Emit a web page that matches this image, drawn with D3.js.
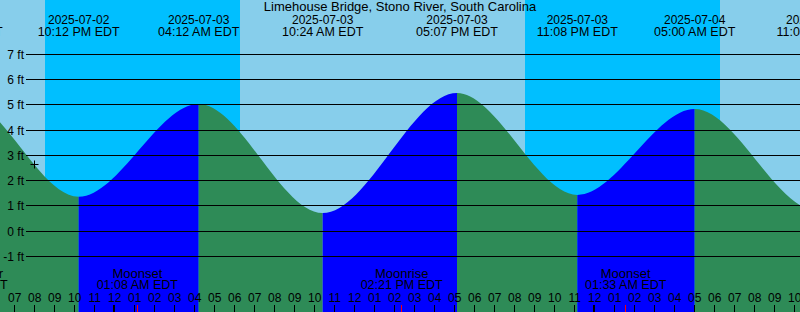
<!DOCTYPE html>
<html>
<head>
<meta charset="utf-8">
<script src="https://cdn.jsdelivr.net/npm/d3@7"></script>
<style>
body { margin: 0; }
svg { display: block; font-family: "Liberation Sans", Arial, sans-serif; font-size: 12px; }
.big { font-size: 13px; }
.mid { font-size: 12.5px; }
</style>
</head>
<body>
<div id="chart"></div>
<script>
// station
var title = "Limehouse Bridge, Stono River, South Carolina";

// tide extremes, local (EDT) wall clock
var tideTimes = ["2025-07-02 10:15", "2025-07-02 16:21", "2025-07-02 22:12", "2025-07-03 04:12",
                 "2025-07-03 10:24", "2025-07-03 17:07", "2025-07-03 23:08", "2025-07-04 05:00",
                 "2025-07-04 11:06", "2025-07-04 17:40", "2025-07-04 23:50"];
var tideHeights = [0.80, 5.30, 1.36, 5.03, 0.71, 5.47, 1.43, 4.83, 0.82, 5.30, 1.40];

// sun and moon
var sunsetTimes = ["2025-07-02 20:31", "2025-07-03 20:31"];
var sunriseTimes = ["2025-07-03 06:16", "2025-07-04 06:16"];
var moonNames = ["First Quarter", "Moonset", "Moonrise", "Moonset"];
var moonTimes = ["2025-07-02 16:36", "2025-07-03 01:08", "2025-07-03 14:21", "2025-07-04 01:33"];

// axis
var heightTicks = [-1, 0, 1, 2, 3, 4, 5, 6, 7];
var startTime = "2025-07-02 18:16", endTime = "2025-07-04 10:16";

// current time mark
var nowTime = "2025-07-02 19:59", nowHeight = 2.64;

var width = 800, height = 312;
var parse = d3.utcParse("%Y-%m-%d %H:%M");
var fmtDate = d3.utcFormat("%Y-%m-%d");
var fmtTime = d3.utcFormat("%I:%M %p EDT");
var fmtHour = d3.utcFormat("%I");

var colors = {day: "#87CEEB", night: "#00BFFF", flood: "#0000FF", ebb: "#2E8B57"};

var tides = tideTimes.map(function(t, i) { return {time: parse(t), h: tideHeights[i]}; });

var x = d3.scaleUtc().domain([parse(startTime), parse(endTime)]).range([0, width]);
var y = d3.scaleLinear().domain([-1, 7]).range([256.3, 54.3]);

var svg = d3.select("#chart").append("svg")
    .attr("width", width)
    .attr("height", height);

// sky: day then night bands
svg.append("rect")
    .attr("width", width)
    .attr("height", height)
    .attr("fill", colors.day);

svg.selectAll(".night")
    .data(sunsetTimes)
    .enter().append("rect")
    .attr("class", "night")
    .attr("x", function(d) { return x(parse(d)); })
    .attr("y", 0)
    .attr("width", function(d, i) { return x(parse(sunriseTimes[i])) - x(parse(d)); })
    .attr("height", height)
    .attr("fill", colors.night);

// water under the tide curve, blue when rising, green when falling
var area = d3.area()
    .x(function(d) { return x(d.time); })
    .y0(height)
    .y1(function(d) { return y(d.h); })
    .curve(d3.curveMonotoneX);

svg.append("clipPath")
    .attr("id", "water")
    .append("path")
    .attr("d", area(tides));

svg.append("g")
    .attr("clip-path", "url(#water)")
    .selectAll("rect")
    .data(tides.slice(0, -1))
    .enter().append("rect")
    .attr("x", function(d) { return x(d.time); })
    .attr("y", 0)
    .attr("width", function(d, i) { return x(tides[i + 1].time) - x(d.time); })
    .attr("height", height)
    .attr("fill", function(d, i) { return tides[i + 1].h > d.h ? colors.flood : colors.ebb; });

// height grid
var grid = svg.append("g");
grid.selectAll("line")
    .data(heightTicks)
    .enter().append("line")
    .attr("x1", 26)
    .attr("x2", width)
    .attr("y1", function(d) { return Math.floor(y(d)) + 0.5; })
    .attr("y2", function(d) { return Math.floor(y(d)) + 0.5; })
    .attr("stroke", "#000")
    .attr("stroke-width", 1);

grid.selectAll("text")
    .data(heightTicks)
    .enter().append("text")
    .attr("x", 24)
    .attr("y", function(d) { return y(d) + 4.5; })
    .attr("text-anchor", "end")
    .text(function(d) { return d + " ft"; });

// title and tide event labels
svg.append("text")
    .attr("class", "big")
    .attr("x", width / 2)
    .attr("y", 11)
    .attr("text-anchor", "middle")
    .text(title);

var heads = svg.selectAll(".head")
    .data(tides)
    .enter().append("text")
    .attr("class", "head")
    .attr("text-anchor", "middle");
heads.append("tspan")
    .attr("x", function(d) { return x(d.time); })
    .attr("y", 24)
    .text(function(d) { return fmtDate(d.time); });
heads.append("tspan")
    .attr("class", "mid")
    .attr("x", function(d) { return x(d.time); })
    .attr("y", 36)
    .text(function(d) { return fmtTime(d.time); });

// moon labels
var moons = svg.selectAll(".moon")
    .data(moonTimes)
    .enter().append("text")
    .attr("class", "moon")
    .attr("text-anchor", "middle");
moons.append("tspan")
    .attr("class", "big")
    .attr("x", function(d) { return x(parse(d)); })
    .attr("y", 278)
    .text(function(d, i) { return moonNames[i]; });
moons.append("tspan")
    .attr("class", "mid")
    .attr("x", function(d) { return x(parse(d)); })
    .attr("y", 289)
    .text(function(d) { return fmtTime(parse(d)); });

// hour axis
var hours = x.ticks(d3.utcHour.every(1)).filter(function(d) { return x(d) > 0 && x(d) < width; });

svg.selectAll(".hour")
    .data(hours)
    .enter().append("text")
    .attr("class", "hour")
    .attr("x", function(d) { return x(d); })
    .attr("y", 301.5)
    .attr("text-anchor", "middle")
    .text(function(d) { return fmtHour(d); });

svg.selectAll(".tick")
    .data(hours)
    .enter().append("rect")
    .attr("class", "tick")
    .attr("x", function(d) { return d.getUTCHours() === 0 ? Math.floor(x(d)) - 1 : Math.floor(x(d)); })
    .attr("y", 305)
    .attr("width", function(d) { return d.getUTCHours() === 0 ? 2 : 1; })
    .attr("height", 7)
    .attr("fill", "#000");

svg.selectAll(".moontick")
    .data(moonTimes)
    .enter().append("rect")
    .attr("class", "moontick")
    .attr("x", function(d) { return Math.floor(x(parse(d))); })
    .attr("y", 305)
    .attr("width", 1)
    .attr("height", 7)
    .attr("fill", "#FF0000");

// now marker
var nx = Math.floor(x(parse(nowTime))) + 0.5, ny = Math.floor(y(nowHeight)) + 0.5;
svg.append("path")
    .attr("d", "M" + (nx - 4) + "," + ny + "H" + (nx + 4) + "M" + nx + "," + (ny - 4) + "V" + (ny + 4))
    .attr("stroke", "#000")
    .attr("stroke-width", 1)
    .attr("fill", "none");
</script>
</body>
</html>
